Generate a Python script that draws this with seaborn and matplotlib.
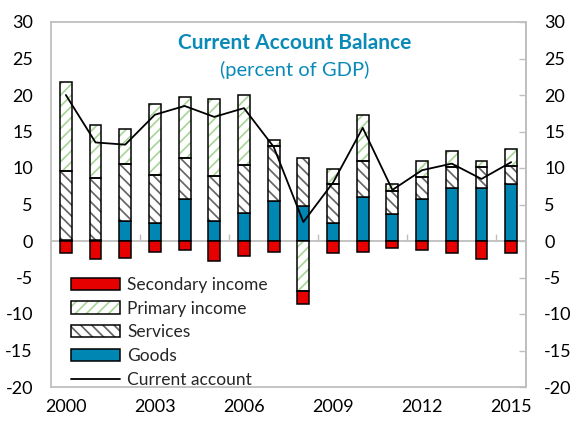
import numpy as np
import matplotlib
matplotlib.use("Agg")
import matplotlib.pyplot as plt
import seaborn as sns
from matplotlib.patches import Patch
from matplotlib.lines import Line2D
from matplotlib.legend_handler import HandlerTuple

# ---- data (percent of GDP) ----
years = [str(y) for y in range(2000, 2016)]
goods = [0.2, 0.2, 2.7, 2.5, 5.8, 2.7, 3.8, 5.5, 4.8, 2.5, 6.0, 3.7, 5.8, 7.3, 7.3, 7.8]
services = [9.4, 8.4, 7.9, 6.6, 5.6, 6.2, 6.6, 7.5, 6.6, 5.3, 4.9, 3.1, 3.0, 2.9, 2.8, 2.5]
primary = [12.2, 7.3, 4.8, 9.7, 8.3, 10.5, 9.6, 0.9, -6.9, 2.1, 6.4, 1.0, 2.1, 2.1, 0.8, 2.3]
secondary = [-1.7, -2.5, -2.3, -1.5, -1.2, -2.7, -2.0, -1.5, -1.7, -1.7, -1.5, -1.0, -1.2, -1.7, -2.5, -1.7]
current = [20.0, 13.5, 13.2, 17.3, 18.5, 17.0, 18.2, 12.9, 2.6, 8.0, 15.5, 7.0, 9.7, 10.6, 8.5, 10.8]
y_ticks = list(range(-20, 31, 5))
x_tick_labels = ["2000", "2003", "2006", "2009", "2012", "2015"]

BLUE = "#0086b3"
RED = "#e60000"
GREEN = "#a9d59a"
GREY_HATCH = "#666666"
FRAME = "#bfbfbf"
TITLE = "#0a8ab9"

sns.set_theme(style="white")
plt.rcParams["font.family"] = ["Lato", "DejaVu Sans"]
plt.rcParams["hatch.linewidth"] = 1.25

fig = plt.figure(figsize=(5.78, 4.28), dpi=100)
ax = fig.add_axes([51 / 578, 41 / 428, 475 / 578, 365 / 428])

n = len(years)
pos = np.zeros(n)
neg = np.zeros(n)
W = 0.4
EDGE_LW = 1.1
H_SVC = "\\\\\\"
H_PRI = "///"


def layer(vals, bottoms):
    n0 = len(ax.patches)
    sns.barplot(x=years, y=vals, bottom=bottoms, width=W, errorbar=None,
                ax=ax, color="white", zorder=2)
    return ax.patches[n0:]


styles = [
    (goods, dict(face=BLUE)),
    (services, dict(hatch=H_SVC, hcolor=GREY_HATCH)),
    (primary, dict(hatch=H_PRI, hcolor=GREEN)),
    (secondary, dict(face=RED)),
]

for vals, st in styles:
    v = np.array(vals, dtype=float)
    bottoms = np.where(v >= 0, pos, neg)
    if "face" in st:
        for p in layer(v, bottoms):
            p.set_facecolor(st["face"])
            p.set_edgecolor("black")
            p.set_linewidth(EDGE_LW)
            p.set_zorder(2)
    else:
        for p in layer(v, bottoms):
            p.set_facecolor("white")
            p.set_edgecolor(st["hcolor"])
            p.set_hatch(st["hatch"])
            p.set_linewidth(0)
            p.set_zorder(2)
        for p in layer(v, bottoms):
            p.set_facecolor("none")
            p.set_edgecolor("black")
            p.set_linewidth(EDGE_LW)
            p.set_zorder(2.1)
    pos += np.where(v >= 0, v, 0)
    neg += np.where(v < 0, v, 0)

sns.lineplot(x=np.arange(n), y=current, color="black", linewidth=1.3, ax=ax, zorder=3)

ax.axhline(0, color=FRAME, lw=1.3, zorder=1)

ax.set_ylim(-20, 30)
ax.set_xlim(-0.5, n - 0.5)
ax.set_yticks(y_ticks)
ax.set_yticklabels([str(t) for t in y_ticks])
ax.set_xticks([years.index(l) for l in x_tick_labels])
ax.set_xticklabels(x_tick_labels)
ax.set_xlabel("")
ax.set_ylabel("")
ax.grid(False)

for s in ax.spines.values():
    s.set_visible(True)
    s.set_color(FRAME)
    s.set_linewidth(1.3)

ax.tick_params(axis="y", direction="in", length=5, width=1, color=FRAME,
               labelsize=13, pad=13, labelcolor="black")
ax.tick_params(axis="x", length=0, labelsize=13, pad=9, labelcolor="black")

# right axis copy
sec = ax.secondary_yaxis("right")
sec.set_yticks(y_ticks)
sec.set_yticklabels([str(t) for t in y_ticks])
sec.tick_params(axis="y", direction="in", length=5, width=1, color=FRAME,
                labelsize=13, pad=13, labelcolor="black")
sec.spines["right"].set_color(FRAME)
sec.spines["right"].set_linewidth(1.3)

# category-boundary ticks on the zero line
zx = ax.secondary_xaxis(20 / 50)
zx.set_xticks(np.arange(2.5, n, 3))
zx.set_xticklabels([])
zx.tick_params(axis="x", direction="in", length=5, width=1, color=FRAME)
zx.spines["bottom"].set_visible(False)

# legend
h_sec = Patch(facecolor=RED, edgecolor="black", lw=EDGE_LW)
h_pri = (Patch(facecolor="white", edgecolor=GREEN, hatch=H_PRI, lw=0),
         Patch(facecolor="none", edgecolor="black", lw=EDGE_LW))
h_svc = (Patch(facecolor="white", edgecolor=GREY_HATCH, hatch=H_SVC, lw=0),
         Patch(facecolor="none", edgecolor="black", lw=EDGE_LW))
h_goods = Patch(facecolor=BLUE, edgecolor="black", lw=EDGE_LW)
h_ca = Line2D([], [], color="black", lw=1.3)
leg = ax.legend([h_sec, h_pri, h_svc, h_goods, h_ca],
                ["Secondary income", "Primary income", "Services", "Goods", "Current account"],
                handler_map={tuple: HandlerTuple(ndivide=1, pad=0)},
                loc="upper left", bbox_to_anchor=(0.042, 0.302), frameon=False,
                fontsize=12.5, handlelength=2.85, handleheight=0.7, handletextpad=0.38,
                labelspacing=0.45, borderpad=0, borderaxespad=0)

fig.text(295 / 578, 1 - 43 / 428, "Current Account Balance", color=TITLE,
         fontsize=15, fontweight="bold", ha="center", va="center")
fig.text(295 / 578, 1 - 70 / 428, "(percent of GDP)", color=TITLE,
         fontsize=14.5, ha="center", va="center")

fig.savefig("out.png", dpi=100)
